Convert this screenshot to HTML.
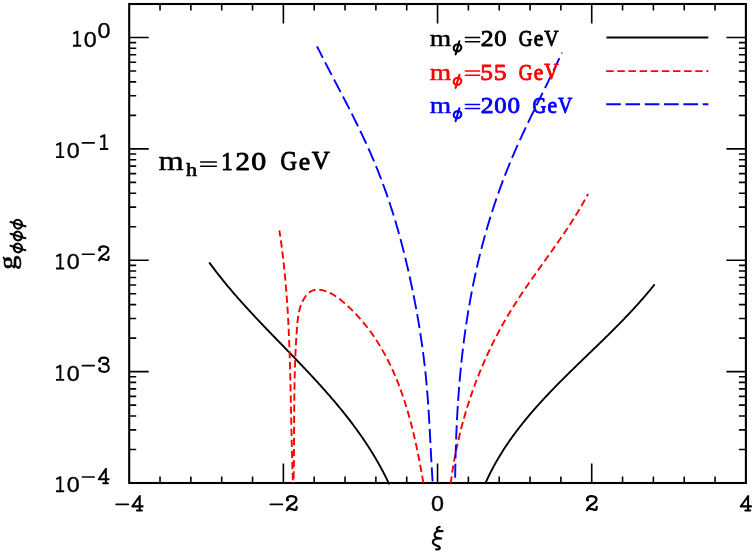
<!DOCTYPE html>
<html><head><meta charset="utf-8"><title>plot</title>
<style>html,body{margin:0;padding:0;background:#fff;font-family:"Liberation Sans",sans-serif}svg{display:block}</style>
</head><body>
<svg width="756" height="554" viewBox="0 0 756 554">
<rect width="756" height="554" fill="#fff"/>
<g style="opacity:0.999">
<path d="M160.03 4.0 v6.6 M160.03 483.0 v-6.6 M190.87 4.0 v6.6 M190.87 483.0 v-6.6 M221.70 4.0 v6.6 M221.70 483.0 v-6.6 M252.54 4.0 v6.6 M252.54 483.0 v-6.6 M283.38 4.0 v19.5 M283.38 483.0 v-19.5 M314.21 4.0 v6.6 M314.21 483.0 v-6.6 M345.04 4.0 v6.6 M345.04 483.0 v-6.6 M375.88 4.0 v6.6 M375.88 483.0 v-6.6 M406.72 4.0 v6.6 M406.72 483.0 v-6.6 M437.55 4.0 v19.5 M437.55 483.0 v-19.5 M468.39 4.0 v6.6 M468.39 483.0 v-6.6 M499.22 4.0 v6.6 M499.22 483.0 v-6.6 M530.06 4.0 v6.6 M530.06 483.0 v-6.6 M560.89 4.0 v6.6 M560.89 483.0 v-6.6 M591.73 4.0 v19.5 M591.73 483.0 v-19.5 M622.56 4.0 v6.6 M622.56 483.0 v-6.6 M653.39 4.0 v6.6 M653.39 483.0 v-6.6 M684.23 4.0 v6.6 M684.23 483.0 v-6.6 M715.07 4.0 v6.6 M715.07 483.0 v-6.6 M129.2 449.47 h7.0 M745.9 449.47 h-7.0 M129.2 429.86 h7.0 M745.9 429.86 h-7.0 M129.2 415.95 h7.0 M745.9 415.95 h-7.0 M129.2 405.16 h7.0 M745.9 405.16 h-7.0 M129.2 396.34 h7.0 M745.9 396.34 h-7.0 M129.2 388.88 h7.0 M745.9 388.88 h-7.0 M129.2 382.42 h7.0 M745.9 382.42 h-7.0 M129.2 376.73 h7.0 M745.9 376.73 h-7.0 M129.2 371.63 h19.5 M745.9 371.63 h-19.5 M129.2 338.11 h7.0 M745.9 338.11 h-7.0 M129.2 318.49 h7.0 M745.9 318.49 h-7.0 M129.2 304.58 h7.0 M745.9 304.58 h-7.0 M129.2 293.79 h7.0 M745.9 293.79 h-7.0 M129.2 284.97 h7.0 M745.9 284.97 h-7.0 M129.2 277.51 h7.0 M745.9 277.51 h-7.0 M129.2 271.06 h7.0 M745.9 271.06 h-7.0 M129.2 265.36 h7.0 M745.9 265.36 h-7.0 M129.2 260.26 h19.5 M745.9 260.26 h-19.5 M129.2 226.74 h7.0 M745.9 226.74 h-7.0 M129.2 207.13 h7.0 M745.9 207.13 h-7.0 M129.2 193.21 h7.0 M745.9 193.21 h-7.0 M129.2 182.42 h7.0 M745.9 182.42 h-7.0 M129.2 173.60 h7.0 M745.9 173.60 h-7.0 M129.2 166.15 h7.0 M745.9 166.15 h-7.0 M129.2 159.69 h7.0 M745.9 159.69 h-7.0 M129.2 153.99 h7.0 M745.9 153.99 h-7.0 M129.2 148.89 h19.5 M745.9 148.89 h-19.5 M129.2 115.37 h7.0 M745.9 115.37 h-7.0 M129.2 95.76 h7.0 M745.9 95.76 h-7.0 M129.2 81.84 h7.0 M745.9 81.84 h-7.0 M129.2 71.05 h7.0 M745.9 71.05 h-7.0 M129.2 62.23 h7.0 M745.9 62.23 h-7.0 M129.2 54.78 h7.0 M745.9 54.78 h-7.0 M129.2 48.32 h7.0 M745.9 48.32 h-7.0 M129.2 42.62 h7.0 M745.9 42.62 h-7.0 M129.2 37.53 h19.5 M745.9 37.53 h-19.5" stroke="#000" stroke-width="1.6" fill="none"/>
<rect x="129.2" y="4.0" width="616.70" height="479.00" fill="none" stroke="#000" stroke-width="2.1"/>
<path d="M209.70 263.07 L210.26 263.84 L210.82 264.61 L211.39 265.38 L211.95 266.14 L212.52 266.91 L213.09 267.67 L213.66 268.43 L214.23 269.19 L214.81 269.95 L215.39 270.70 L215.96 271.46 L216.54 272.21 L217.13 272.96 L217.71 273.72 L218.29 274.47 L218.88 275.21 L219.47 275.96 L220.06 276.71 L220.65 277.45 L221.24 278.19 L221.83 278.94 L222.43 279.68 L223.03 280.42 L223.63 281.16 L224.23 281.89 L224.83 282.63 L225.43 283.36 L226.04 284.10 L226.64 284.83 L227.25 285.56 L227.86 286.29 L228.47 287.02 L229.08 287.75 L229.69 288.48 L230.30 289.21 L230.92 289.93 L231.54 290.65 L232.15 291.38 L232.77 292.10 L233.39 292.82 L234.01 293.54 L234.64 294.26 L235.26 294.98 L235.88 295.70 L236.51 296.41 L237.14 297.13 L237.76 297.84 L238.39 298.56 L239.02 299.27 L239.65 299.98 L240.29 300.69 L240.92 301.40 L241.55 302.11 L242.19 302.82 L242.83 303.53 L243.46 304.24 L244.10 304.94 L244.74 305.65 L245.38 306.35 L246.02 307.06 L246.66 307.76 L247.31 308.46 L247.95 309.17 L248.59 309.87 L249.24 310.57 L249.89 311.27 L250.53 311.97 L251.18 312.67 L251.83 313.37 L252.48 314.06 L253.13 314.76 L253.78 315.46 L254.43 316.15 L255.08 316.85 L255.73 317.54 L256.38 318.24 L257.04 318.93 L257.69 319.63 L258.35 320.32 L259.00 321.01 L259.66 321.70 L260.32 322.40 L260.97 323.09 L261.63 323.78 L262.29 324.47 L262.95 325.16 L263.60 325.85 L264.26 326.54 L264.92 327.23 L265.58 327.92 L266.24 328.60 L266.91 329.29 L267.57 329.98 L268.23 330.67 L268.89 331.35 L269.55 332.04 L270.21 332.73 L270.88 333.41 L271.54 334.10 L272.20 334.79 L272.87 335.47 L273.53 336.16 L274.20 336.84 L274.86 337.53 L275.52 338.22 L276.19 338.90 L276.85 339.59 L277.52 340.27 L278.18 340.96 L278.85 341.64 L279.51 342.33 L280.18 343.01 L280.84 343.70 L281.51 344.38 L282.17 345.07 L282.84 345.75 L283.50 346.44 L284.17 347.12 L284.83 347.81 L285.50 348.49 L286.16 349.18 L286.83 349.86 L287.49 350.55 L288.15 351.23 L288.82 351.92 L289.48 352.60 L290.15 353.29 L290.81 353.98 L291.47 354.66 L292.14 355.35 L292.80 356.04 L293.46 356.72 L294.12 357.41 L294.79 358.10 L295.45 358.79 L296.11 359.47 L296.77 360.16 L297.43 360.85 L298.09 361.54 L298.75 362.23 L299.41 362.92 L300.07 363.61 L300.73 364.30 L301.38 364.99 L302.04 365.68 L302.70 366.37 L303.36 367.06 L304.01 367.76 L304.67 368.45 L305.32 369.14 L305.98 369.83 L306.63 370.53 L307.29 371.22 L307.94 371.92 L308.59 372.61 L309.24 373.31 L309.89 374.01 L310.54 374.70 L311.19 375.40 L311.84 376.10 L312.49 376.80 L313.14 377.50 L313.79 378.19 L314.43 378.90 L315.08 379.60 L315.72 380.30 L316.37 381.00 L317.01 381.70 L317.65 382.41 L318.29 383.11 L318.93 383.81 L319.57 384.52 L320.21 385.23 L320.85 385.93 L321.49 386.64 L322.12 387.35 L322.76 388.06 L323.39 388.77 L324.03 389.48 L324.66 390.19 L325.29 390.90 L325.92 391.61 L326.55 392.33 L327.18 393.04 L327.81 393.76 L328.43 394.47 L329.06 395.19 L329.68 395.91 L330.31 396.63 L330.93 397.35 L331.55 398.07 L332.17 398.79 L332.79 399.51 L333.41 400.23 L334.02 400.96 L334.64 401.68 L335.25 402.41 L335.86 403.14 L336.48 403.86 L337.09 404.59 L337.69 405.32 L338.30 406.05 L338.91 406.79 L339.51 407.52 L340.12 408.25 L340.72 408.99 L341.32 409.73 L341.92 410.46 L342.52 411.20 L343.12 411.94 L343.71 412.68 L344.31 413.42 L344.90 414.17 L345.49 414.91 L346.08 415.66 L346.67 416.40 L347.25 417.15 L347.84 417.90 L348.42 418.65 L349.01 419.40 L349.59 420.15 L350.17 420.91 L350.74 421.66 L351.32 422.42 L351.89 423.18 L352.47 423.94 L353.04 424.70 L353.61 425.46 L354.17 426.22 L354.74 426.99 L355.30 427.75 L355.87 428.52 L356.43 429.29 L356.99 430.06 L357.54 430.83 L358.10 431.60 L358.65 432.37 L359.21 433.15 L359.76 433.93 L360.30 434.70 L360.85 435.48 L361.40 436.26 L361.94 437.05 L362.48 437.83 L363.02 438.62 L363.56 439.40 L364.09 440.19 L364.62 440.98 L365.16 441.78 L365.69 442.57 L366.21 443.36 L366.74 444.16 L367.26 444.96 L367.78 445.76 L368.30 446.56 L368.82 447.36 L369.34 448.17 L369.85 448.97 L370.36 449.78 L370.87 450.59 L371.38 451.40 L371.88 452.22 L372.38 453.03 L372.88 453.85 L373.38 454.66 L373.88 455.48 L374.37 456.31 L374.86 457.13 L375.35 457.95 L375.84 458.78 L376.32 459.61 L376.81 460.44 L377.29 461.27 L377.76 462.11 L378.24 462.94 L378.71 463.78 L379.18 464.62 L379.65 465.46 L380.12 466.31 L380.58 467.15 L381.04 468.00 L381.50 468.85 L381.96 469.70 L382.41 470.55 L382.86 471.41 L383.31 472.27 L383.76 473.13 L384.20 473.99 L384.64 474.85 L385.08 475.71 L385.52 476.58 L385.95 477.45 L386.38 478.32 L386.81 479.20 L387.24 480.07 L387.66 480.95 L388.08 481.83 L388.50 482.71 L388.91 483.59" fill="none" stroke="#000" stroke-width="1.9" stroke-linecap="round" stroke-linejoin="round"/>
<path d="M485.47 483.13 L485.84 482.31 L486.20 481.49 L486.57 480.68 L486.95 479.87 L487.32 479.06 L487.70 478.25 L488.09 477.44 L488.47 476.64 L488.86 475.84 L489.25 475.04 L489.64 474.24 L490.04 473.44 L490.44 472.65 L490.84 471.86 L491.24 471.07 L491.65 470.28 L492.05 469.50 L492.47 468.72 L492.88 467.93 L493.30 467.16 L493.72 466.38 L494.14 465.60 L494.56 464.83 L494.99 464.06 L495.42 463.29 L495.85 462.52 L496.28 461.76 L496.72 460.99 L497.16 460.23 L497.60 459.47 L498.04 458.71 L498.49 457.96 L498.94 457.20 L499.39 456.45 L499.84 455.70 L500.30 454.95 L500.75 454.20 L501.21 453.46 L501.67 452.72 L502.14 451.97 L502.61 451.23 L503.07 450.50 L503.55 449.76 L504.02 449.02 L504.49 448.29 L504.97 447.56 L505.45 446.83 L505.93 446.10 L506.42 445.37 L506.90 444.65 L507.39 443.93 L507.88 443.20 L508.37 442.48 L508.87 441.77 L509.36 441.05 L509.86 440.33 L510.36 439.62 L510.87 438.91 L511.37 438.20 L511.88 437.49 L512.38 436.78 L512.90 436.07 L513.41 435.37 L513.92 434.67 L514.44 433.96 L514.95 433.26 L515.47 432.56 L516.00 431.87 L516.52 431.17 L517.04 430.48 L517.57 429.78 L518.10 429.09 L518.63 428.40 L519.16 427.71 L519.70 427.02 L520.23 426.34 L520.77 425.65 L521.31 424.97 L521.85 424.29 L522.39 423.61 L522.93 422.93 L523.48 422.25 L524.03 421.57 L524.57 420.89 L525.12 420.22 L525.68 419.54 L526.23 418.87 L526.78 418.20 L527.34 417.53 L527.90 416.86 L528.46 416.19 L529.02 415.53 L529.58 414.86 L530.14 414.20 L530.71 413.53 L531.28 412.87 L531.84 412.21 L532.41 411.55 L532.98 410.89 L533.56 410.23 L534.13 409.58 L534.70 408.92 L535.28 408.27 L535.86 407.61 L536.44 406.96 L537.02 406.31 L537.60 405.66 L538.18 405.01 L538.76 404.36 L539.35 403.71 L539.93 403.07 L540.52 402.42 L541.11 401.77 L541.70 401.13 L542.29 400.49 L542.88 399.84 L543.47 399.20 L544.07 398.56 L544.66 397.92 L545.26 397.28 L545.85 396.64 L546.45 396.01 L547.05 395.37 L547.65 394.73 L548.25 394.10 L548.85 393.47 L549.46 392.83 L550.06 392.20 L550.66 391.57 L551.27 390.93 L551.88 390.30 L552.48 389.67 L553.09 389.04 L553.70 388.42 L554.31 387.79 L554.92 387.16 L555.53 386.53 L556.14 385.91 L556.76 385.28 L557.37 384.66 L557.99 384.03 L558.60 383.41 L559.22 382.79 L559.83 382.16 L560.45 381.54 L561.07 380.92 L561.69 380.30 L562.31 379.68 L562.92 379.06 L563.55 378.44 L564.17 377.82 L564.79 377.20 L565.41 376.58 L566.03 375.96 L566.66 375.35 L567.28 374.73 L567.90 374.11 L568.53 373.50 L569.15 372.88 L569.78 372.26 L570.40 371.65 L571.03 371.03 L571.66 370.42 L572.28 369.81 L572.91 369.19 L573.54 368.58 L574.17 367.96 L574.80 367.35 L575.42 366.74 L576.05 366.13 L576.68 365.51 L577.31 364.90 L577.94 364.29 L578.57 363.68 L579.20 363.07 L579.83 362.46 L580.46 361.85 L581.09 361.23 L581.73 360.62 L582.36 360.01 L582.99 359.40 L583.62 358.79 L584.25 358.18 L584.88 357.57 L585.51 356.96 L586.15 356.35 L586.78 355.74 L587.41 355.13 L588.04 354.52 L588.67 353.91 L589.31 353.30 L589.94 352.69 L590.57 352.08 L591.20 351.47 L591.83 350.86 L592.46 350.25 L593.09 349.64 L593.73 349.03 L594.36 348.42 L594.99 347.81 L595.62 347.20 L596.25 346.59 L596.88 345.98 L597.51 345.37 L598.14 344.76 L598.77 344.14 L599.40 343.53 L600.03 342.92 L600.66 342.31 L601.29 341.70 L601.91 341.08 L602.54 340.47 L603.17 339.86 L603.80 339.25 L604.42 338.63 L605.05 338.02 L605.67 337.41 L606.30 336.79 L606.93 336.18 L607.55 335.56 L608.17 334.95 L608.80 334.33 L609.42 333.71 L610.04 333.10 L610.67 332.48 L611.29 331.86 L611.91 331.25 L612.53 330.63 L613.15 330.01 L613.77 329.39 L614.39 328.77 L615.00 328.15 L615.62 327.53 L616.24 326.91 L616.85 326.29 L617.47 325.67 L618.08 325.05 L618.70 324.42 L619.31 323.80 L619.92 323.18 L620.53 322.55 L621.15 321.93 L621.76 321.30 L622.36 320.68 L622.97 320.05 L623.58 319.42 L624.19 318.79 L624.79 318.16 L625.40 317.53 L626.00 316.90 L626.60 316.27 L627.21 315.64 L627.81 315.01 L628.41 314.38 L629.01 313.74 L629.60 313.11 L630.20 312.47 L630.80 311.84 L631.39 311.20 L631.99 310.56 L632.58 309.92 L633.17 309.29 L633.76 308.65 L634.35 308.00 L634.94 307.36 L635.53 306.72 L636.11 306.08 L636.70 305.43 L637.28 304.79 L637.86 304.14 L638.45 303.49 L639.03 302.85 L639.60 302.20 L640.18 301.55 L640.76 300.90 L641.33 300.24 L641.91 299.59 L642.48 298.94 L643.05 298.28 L643.62 297.63 L644.19 296.97 L644.75 296.31 L645.32 295.65 L645.88 294.99 L646.45 294.33 L647.01 293.67 L647.57 293.01 L648.13 292.34 L648.68 291.68 L649.24 291.01 L649.79 290.34 L650.34 289.67 L650.89 289.00 L651.44 288.33 L651.99 287.66 L652.53 286.98 L653.08 286.31 L653.62 285.63 L654.16 284.95" fill="none" stroke="#000" stroke-width="1.9" stroke-linecap="round" stroke-linejoin="round"/>
<path d="M279.36 230.38 L279.49 231.22 L279.62 232.06 L279.75 232.89 L279.87 233.73 L280.00 234.57 L280.12 235.41 L280.24 236.25 L280.37 237.09 L280.49 237.93 L280.61 238.77 L280.73 239.61 L280.84 240.45 L280.96 241.29 L281.08 242.12 L281.19 242.96 L281.31 243.80 L281.42 244.64 L281.53 245.48 L281.64 246.32 L281.75 247.16 L281.86 248.00 L281.97 248.84 L282.08 249.68 L282.18 250.52 L282.29 251.36 L282.39 252.21 L282.50 253.05 L282.60 253.89 L282.70 254.73 L282.80 255.57 L282.90 256.41 L283.00 257.25 L283.10 258.09 L283.20 258.93 L283.29 259.77 L283.39 260.61 L283.48 261.46 L283.58 262.30 L283.67 263.14 L283.76 263.98 L283.85 264.82 L283.94 265.66 L284.03 266.51 L284.12 267.35 L284.21 268.19 L284.30 269.03 L284.38 269.87 L284.47 270.71 L284.55 271.56 L284.63 272.40 L284.72 273.24 L284.80 274.08 L284.88 274.93 L284.96 275.77 L285.04 276.61 L285.12 277.45 L285.20 278.30 L285.27 279.14 L285.35 279.98 L285.43 280.82 L285.50 281.67 L285.58 282.51 L285.65 283.35 L285.72 284.20 L285.79 285.04 L285.87 285.88 L285.94 286.73 L286.01 287.57 L286.08 288.41 L286.14 289.26 L286.21 290.10 L286.28 290.94 L286.34 291.79 L286.41 292.63 L286.47 293.47 L286.54 294.32 L286.60 295.16 L286.67 296.00 L286.73 296.85 L286.79 297.69 L286.85 298.54 L286.91 299.38 L286.97 300.22 L287.03 301.07 L287.09 301.91 L287.14 302.76 L287.20 303.60 L287.26 304.45 L287.31 305.29 L287.37 306.13 L287.42 306.98 L287.48 307.82 L287.53 308.67 L287.58 309.51 L287.64 310.36 L287.69 311.20 L287.74 312.05 L287.79 312.89 L287.84 313.74 L287.89 314.58 L287.94 315.43 L287.98 316.27 L288.03 317.12 L288.08 317.96 L288.13 318.81 L288.17 319.65 L288.22 320.50 L288.26 321.34 L288.31 322.19 L288.35 323.03 L288.39 323.88 L288.44 324.72 L288.48 325.57 L288.52 326.41 L288.56 327.26 L288.60 328.10 L288.64 328.95 L288.68 329.80 L288.72 330.64 L288.76 331.49 L288.80 332.33 L288.84 333.18 L288.87 334.02 L288.91 334.87 L288.95 335.72 L288.98 336.56 L289.02 337.41 L289.06 338.25 L289.09 339.10 L289.13 339.95 L289.16 340.79 L289.19 341.64 L289.23 342.48 L289.26 343.33 L289.29 344.18 L289.32 345.02 L289.36 345.87 L289.39 346.71 L289.42 347.56 L289.45 348.41 L289.48 349.25 L289.51 350.10 L289.54 350.95 L289.57 351.79 L289.60 352.64 L289.63 353.48 L289.65 354.33 L289.68 355.18 L289.71 356.02 L289.74 356.87 L289.76 357.72 L289.79 358.56 L289.82 359.41 L289.84 360.26 L289.87 361.10 L289.89 361.95 L289.92 362.80 L289.94 363.64 L289.97 364.49 L289.99 365.34 L290.02 366.18 L290.04 367.03 L290.06 367.88 L290.09 368.72 L290.11 369.57 L290.13 370.42 L290.15 371.26 L290.18 372.11 L290.20 372.96 L290.22 373.80 L290.24 374.65 L290.26 375.50 L290.29 376.34 L290.31 377.19 L290.33 378.04 L290.35 378.88 L290.37 379.73 L290.39 380.58 L290.41 381.43 L290.43 382.27 L290.45 383.12 L290.47 383.97 L290.49 384.81 L290.51 385.66 L290.53 386.51 L290.54 387.35 L290.56 388.20 L290.58 389.05 L290.60 389.89 L290.62 390.74 L290.64 391.59 L290.66 392.44 L290.67 393.28 L290.69 394.13 L290.71 394.98 L290.73 395.82 L290.75 396.67 L290.76 397.52 L290.78 398.36 L290.80 399.21 L290.82 400.06 L290.83 400.91 L290.85 401.75 L290.87 402.60 L290.89 403.45 L290.90 404.29 L290.92 405.14 L290.94 405.99 L290.95 406.83 L290.97 407.68 L290.99 408.53 L291.01 409.37 L291.02 410.22 L291.04 411.07 L291.06 411.92 L291.07 412.76 L291.09 413.61 L291.11 414.46 L291.12 415.30 L291.14 416.15 L291.16 417.00 L291.18 417.84 L291.19 418.69 L291.21 419.54 L291.23 420.38 L291.25 421.23 L291.26 422.08 L291.28 422.92 L291.30 423.77 L291.32 424.62 L291.33 425.46 L291.35 426.31 L291.37 427.16 L291.39 428.01 L291.40 428.85 L291.42 429.70 L291.44 430.55 L291.46 431.39 L291.48 432.24 L291.50 433.08 L291.52 433.93 L291.53 434.78 L291.55 435.62 L291.57 436.47 L291.59 437.32 L291.61 438.16 L291.63 439.01 L291.65 439.86 L291.67 440.70 L291.69 441.55 L291.71 442.40 L291.73 443.24 L291.75 444.09 L291.77 444.94 L291.80 445.78 L291.82 446.63 L291.84 447.47 L291.86 448.32 L291.88 449.17 L291.90 450.01 L291.93 450.86 L291.95 451.70 L291.97 452.55 L291.99 453.40 L292.02 454.24 L292.04 455.09 L292.07 455.93 L292.09 456.78 L292.11 457.63 L292.14 458.47 L292.16 459.32 L292.19 460.16 L292.21 461.01 L292.24 461.86 L292.27 462.70 L292.29 463.55 L292.32 464.39 L292.35 465.24 L292.37 466.08 L292.40 466.93 L292.43 467.77 L292.46 468.62 L292.49 469.47 L292.52 470.31 L292.55 471.16 L292.58 472.00 L292.61 472.85 L292.64 473.69 L292.67 474.54 L292.70 475.38 L292.73 476.23 L292.76 477.07 L292.79 477.92 L292.83 478.76 L292.86 479.61 L292.89 480.45 L292.93 481.30 L292.96 482.14 L293.00 482.99" fill="none" stroke="#f00" stroke-width="1.9" stroke-dasharray="7.3 3.8" stroke-dashoffset="1" stroke-linejoin="round"/>
<path d="M423.34 482.85 L423.20 482.01 L423.05 481.17 L422.91 480.33 L422.77 479.49 L422.62 478.65 L422.48 477.81 L422.33 476.97 L422.18 476.13 L422.03 475.29 L421.89 474.45 L421.74 473.60 L421.59 472.76 L421.44 471.91 L421.28 471.07 L421.13 470.22 L420.98 469.38 L420.82 468.53 L420.67 467.68 L420.51 466.84 L420.36 465.99 L420.20 465.14 L420.04 464.29 L419.88 463.44 L419.72 462.60 L419.56 461.75 L419.40 460.90 L419.23 460.05 L419.07 459.20 L418.90 458.35 L418.74 457.50 L418.57 456.64 L418.40 455.79 L418.23 454.94 L418.06 454.09 L417.89 453.24 L417.71 452.39 L417.54 451.53 L417.36 450.68 L417.19 449.83 L417.01 448.98 L416.83 448.13 L416.65 447.27 L416.47 446.42 L416.28 445.57 L416.10 444.72 L415.91 443.86 L415.73 443.01 L415.54 442.16 L415.35 441.31 L415.16 440.45 L414.97 439.60 L414.77 438.75 L414.58 437.90 L414.38 437.04 L414.19 436.19 L413.99 435.34 L413.79 434.49 L413.58 433.64 L413.38 432.79 L413.18 431.94 L412.97 431.09 L412.76 430.23 L412.55 429.38 L412.34 428.53 L412.13 427.69 L411.91 426.84 L411.70 425.99 L411.48 425.14 L411.26 424.29 L411.04 423.44 L410.82 422.59 L410.60 421.75 L410.37 420.90 L410.14 420.05 L409.91 419.21 L409.68 418.36 L409.45 417.52 L409.22 416.67 L408.98 415.83 L408.74 414.99 L408.50 414.14 L408.26 413.30 L408.02 412.46 L407.77 411.62 L407.53 410.78 L407.28 409.94 L407.03 409.10 L406.78 408.26 L406.52 407.42 L406.27 406.59 L406.01 405.75 L405.75 404.91 L405.49 404.08 L405.22 403.25 L404.96 402.41 L404.69 401.58 L404.42 400.75 L404.15 399.92 L403.87 399.09 L403.60 398.26 L403.32 397.43 L403.04 396.60 L402.76 395.77 L402.47 394.95 L402.18 394.12 L401.90 393.30 L401.60 392.48 L401.31 391.65 L401.02 390.83 L400.72 390.01 L400.42 389.19 L400.12 388.37 L399.81 387.56 L399.51 386.74 L399.20 385.93 L398.89 385.11 L398.57 384.30 L398.26 383.49 L397.94 382.68 L397.62 381.87 L397.30 381.06 L396.97 380.25 L396.64 379.45 L396.31 378.64 L395.98 377.84 L395.65 377.04 L395.31 376.23 L394.97 375.43 L394.63 374.64 L394.28 373.84 L393.93 373.04 L393.58 372.25 L393.23 371.46 L392.88 370.66 L392.52 369.87 L392.16 369.08 L391.80 368.30 L391.43 367.51 L391.06 366.73 L390.69 365.94 L390.32 365.16 L389.95 364.38 L389.57 363.60 L389.19 362.82 L388.80 362.05 L388.42 361.27 L388.03 360.50 L387.63 359.73 L387.24 358.96 L386.84 358.19 L386.44 357.43 L386.04 356.66 L385.63 355.90 L385.22 355.14 L384.81 354.38 L384.40 353.62 L383.98 352.87 L383.56 352.11 L383.13 351.36 L382.71 350.61 L382.28 349.86 L381.85 349.11 L381.41 348.37 L380.97 347.62 L380.53 346.88 L380.09 346.14 L379.64 345.40 L379.19 344.67 L378.74 343.93 L378.28 343.20 L377.82 342.47 L377.36 341.74 L376.89 341.01 L376.42 340.29 L375.95 339.57 L375.48 338.85 L375.00 338.13 L374.52 337.41 L374.03 336.70 L373.54 335.99 L373.05 335.28 L372.56 334.57 L372.06 333.86 L371.56 333.16 L371.06 332.46 L370.55 331.76 L370.04 331.06 L369.52 330.36 L369.01 329.67 L368.49 328.98 L367.96 328.29 L367.43 327.61 L366.90 326.92 L366.37 326.24 L365.83 325.56 L365.29 324.89 L364.74 324.21 L364.20 323.54 L363.64 322.87 L363.09 322.20 L362.53 321.54 L361.97 320.87 L361.40 320.21 L360.83 319.56 L360.26 318.90 L359.68 318.25 L359.10 317.60 L358.52 316.95 L357.93 316.30 L357.34 315.66 L356.74 315.02 L356.15 314.38 L355.54 313.75 L354.94 313.12 L354.33 312.49 L353.71 311.86 L353.10 311.23 L352.48 310.61 L351.85 309.99 L351.22 309.38 L350.59 308.76 L349.95 308.15 L349.31 307.54 L348.67 306.94 L348.02 306.34 L347.37 305.74 L346.72 305.14 L346.06 304.54 L345.39 303.95 L344.73 303.36 L344.05 302.78 L343.38 302.20 L342.70 301.62 L342.02 301.04 L341.33 300.47 L340.64 299.91 L339.94 299.35 L339.24 298.80 L338.53 298.26 L337.82 297.72 L337.10 297.20 L336.38 296.69 L335.65 296.18 L334.91 295.69 L334.17 295.22 L333.42 294.76 L332.67 294.31 L331.91 293.88 L331.14 293.46 L330.37 293.06 L329.59 292.68 L328.80 292.32 L328.00 291.97 L327.20 291.65 L326.39 291.35 L325.57 291.06 L324.74 290.81 L323.91 290.57 L323.06 290.36 L322.21 290.18 L321.36 290.02 L320.51 289.90 L319.65 289.80 L318.80 289.74 L317.95 289.71 L317.11 289.73 L316.28 289.78 L315.46 289.87 L314.66 290.00 L313.86 290.18 L313.09 290.40 L312.33 290.68 L311.60 291.00 L310.88 291.37 L310.19 291.79 L309.52 292.25 L308.88 292.76 L308.25 293.30 L307.65 293.88 L307.06 294.49 L306.50 295.12 L305.96 295.79 L305.44 296.48 L304.94 297.19 L304.46 297.92 L304.00 298.66 L303.57 299.42 L303.15 300.19 L302.75 300.96 L302.37 301.74 L302.01 302.53 L301.66 303.32 L301.34 304.13 L301.03 304.93 L300.73 305.74 L300.45 306.56 L300.19 307.39 L299.94 308.21 L299.71 309.05 L299.49 309.89 L299.28 310.73 L299.09 311.57 L298.90 312.43 L298.73 313.28 L298.57 314.14 L298.42 315.00 L298.28 315.86 L298.14 316.73 L298.02 317.60 L297.90 318.47 L297.79 319.35 L297.69 320.22 L297.59 321.10 L297.50 321.98 L297.42 322.86 L297.34 323.74 L297.26 324.62 L297.18 325.51 L297.11 326.39 L297.04 327.27 L296.98 328.16 L296.91 329.04 L296.85 329.92 L296.78 330.80 L296.72 331.68 L296.66 332.56 L296.60 333.45 L296.54 334.33 L296.48 335.21 L296.42 336.08 L296.36 336.96 L296.31 337.84 L296.25 338.72 L296.20 339.60 L296.15 340.48 L296.09 341.35 L296.04 342.23 L295.99 343.11 L295.94 343.98 L295.90 344.86 L295.85 345.73 L295.80 346.61 L295.76 347.48 L295.71 348.36 L295.67 349.23 L295.63 350.10 L295.58 350.98 L295.54 351.85 L295.50 352.72 L295.46 353.60 L295.42 354.47 L295.38 355.34 L295.35 356.21 L295.31 357.08 L295.28 357.95 L295.24 358.83 L295.21 359.70 L295.17 360.57 L295.14 361.44 L295.11 362.31 L295.08 363.18 L295.05 364.04 L295.02 364.91 L294.99 365.78 L294.96 366.65 L294.93 367.52 L294.90 368.39 L294.88 369.26 L294.85 370.12 L294.83 370.99 L294.80 371.86 L294.78 372.73 L294.75 373.59 L294.73 374.46 L294.71 375.33 L294.69 376.19 L294.67 377.06 L294.64 377.93 L294.62 378.79 L294.61 379.66 L294.59 380.52 L294.57 381.39 L294.55 382.26 L294.53 383.12 L294.52 383.99 L294.50 384.85 L294.48 385.72 L294.47 386.58 L294.45 387.45 L294.44 388.31 L294.42 389.17 L294.41 390.04 L294.40 390.90 L294.38 391.77 L294.37 392.63 L294.36 393.50 L294.35 394.36 L294.34 395.22 L294.33 396.09 L294.31 396.95 L294.30 397.82 L294.29 398.68 L294.28 399.54 L294.28 400.41 L294.27 401.27 L294.26 402.14 L294.25 403.00 L294.24 403.86 L294.23 404.73 L294.23 405.59 L294.22 406.45 L294.21 407.32 L294.20 408.18 L294.20 409.05 L294.19 409.91 L294.19 410.77 L294.18 411.64 L294.17 412.50 L294.17 413.36 L294.16 414.23 L294.16 415.09 L294.15 415.96 L294.15 416.82 L294.14 417.68 L294.14 418.55 L294.13 419.41 L294.13 420.28 L294.12 421.14 L294.12 422.01 L294.12 422.87 L294.11 423.74 L294.11 424.60 L294.10 425.47 L294.10 426.33 L294.09 427.20 L294.09 428.06 L294.09 428.93 L294.08 429.79 L294.08 430.66 L294.07 431.52 L294.07 432.39 L294.07 433.26 L294.06 434.12 L294.06 434.99 L294.05 435.86 L294.05 436.72 L294.05 437.59 L294.04 438.46 L294.04 439.32 L294.03 440.19 L294.03 441.06 L294.02 441.93 L294.02 442.80 L294.01 443.66 L294.01 444.53 L294.00 445.40 L294.00 446.27 L293.99 447.14 L293.98 448.01 L293.98 448.88 L293.97 449.75 L293.97 450.62 L293.96 451.49 L293.95 452.36 L293.94 453.23 L293.94 454.10 L293.93 454.97 L293.92 455.85 L293.91 456.72 L293.90 457.59 L293.89 458.46 L293.89 459.34 L293.88 460.21 L293.87 461.08 L293.86 461.96 L293.85 462.83 L293.83 463.70 L293.82 464.58 L293.81 465.45 L293.80 466.33 L293.79 467.21 L293.77 468.08 L293.76 468.96 L293.75 469.84 L293.73 470.71 L293.72 471.59 L293.70 472.47 L293.69 473.35 L293.67 474.23 L293.66 475.10 L293.64 475.98 L293.62 476.86 L293.60 477.74 L293.59 478.63 L293.57 479.51 L293.55 480.39 L293.53 481.27 L293.51 482.15 L293.49 483.04" fill="none" stroke="#f00" stroke-width="1.9" stroke-dasharray="7.3 3.8" stroke-linejoin="round"/>
<path d="M588.08 193.89 L587.57 194.85 L587.06 195.81 L586.55 196.77 L586.03 197.72 L585.51 198.67 L584.99 199.62 L584.46 200.57 L583.94 201.52 L583.40 202.46 L582.87 203.40 L582.33 204.34 L581.79 205.28 L581.25 206.22 L580.70 207.16 L580.15 208.09 L579.60 209.02 L579.04 209.95 L578.49 210.88 L577.93 211.81 L577.37 212.73 L576.80 213.66 L576.23 214.58 L575.67 215.50 L575.09 216.42 L574.52 217.34 L573.94 218.26 L573.37 219.17 L572.78 220.09 L572.20 221.00 L571.62 221.91 L571.03 222.82 L570.44 223.73 L569.85 224.64 L569.26 225.55 L568.66 226.45 L568.07 227.36 L567.47 228.26 L566.87 229.16 L566.27 230.07 L565.67 230.97 L565.06 231.87 L564.46 232.76 L563.85 233.66 L563.24 234.56 L562.63 235.45 L562.02 236.35 L561.40 237.24 L560.79 238.14 L560.17 239.03 L559.56 239.92 L558.94 240.81 L558.32 241.70 L557.70 242.59 L557.08 243.48 L556.46 244.37 L555.83 245.26 L555.21 246.15 L554.59 247.04 L553.96 247.92 L553.34 248.81 L552.71 249.69 L552.08 250.58 L551.45 251.47 L550.83 252.35 L550.20 253.23 L549.57 254.12 L548.94 255.00 L548.31 255.89 L547.68 256.77 L547.05 257.65 L546.42 258.54 L545.78 259.42 L545.15 260.30 L544.52 261.18 L543.89 262.07 L543.26 262.95 L542.63 263.83 L542.00 264.71 L541.37 265.60 L540.73 266.48 L540.10 267.36 L539.47 268.25 L538.84 269.13 L538.21 270.01 L537.58 270.90 L536.96 271.78 L536.33 272.67 L535.70 273.55 L535.07 274.44 L534.45 275.32 L533.82 276.21 L533.19 277.09 L532.57 277.98 L531.95 278.87 L531.32 279.75 L530.70 280.64 L530.08 281.53 L529.46 282.42 L528.84 283.31 L528.22 284.20 L527.61 285.09 L526.99 285.98 L526.38 286.87 L525.76 287.77 L525.15 288.66 L524.54 289.56 L523.93 290.45 L523.32 291.35 L522.72 292.25 L522.11 293.14 L521.51 294.04 L520.91 294.94 L520.31 295.84 L519.71 296.75 L519.11 297.65 L518.52 298.55 L517.93 299.46 L517.34 300.37 L516.75 301.27 L516.16 302.18 L515.58 303.09 L514.99 304.00 L514.41 304.92 L513.83 305.83 L513.26 306.75 L512.68 307.66 L512.11 308.58 L511.54 309.50 L510.97 310.42 L510.41 311.34 L509.85 312.27 L509.29 313.19 L508.73 314.12 L508.17 315.04 L507.62 315.97 L507.07 316.90 L506.52 317.84 L505.98 318.77 L505.44 319.71 L504.90 320.64 L504.36 321.58 L503.82 322.52 L503.29 323.46 L502.76 324.40 L502.23 325.34 L501.71 326.29 L501.18 327.24 L500.66 328.18 L500.14 329.13 L499.63 330.08 L499.11 331.03 L498.60 331.99 L498.10 332.94 L497.59 333.89 L497.09 334.85 L496.58 335.81 L496.09 336.77 L495.59 337.73 L495.10 338.69 L494.61 339.65 L494.12 340.62 L493.63 341.58 L493.15 342.55 L492.66 343.52 L492.19 344.49 L491.71 345.46 L491.24 346.43 L490.76 347.40 L490.30 348.38 L489.83 349.35 L489.36 350.33 L488.90 351.31 L488.44 352.29 L487.99 353.27 L487.53 354.25 L487.08 355.23 L486.63 356.22 L486.19 357.20 L485.74 358.19 L485.30 359.17 L484.86 360.16 L484.42 361.15 L483.99 362.14 L483.56 363.14 L483.13 364.13 L482.70 365.12 L482.28 366.12 L481.86 367.11 L481.44 368.11 L481.02 369.11 L480.60 370.11 L480.19 371.11 L479.78 372.11 L479.38 373.11 L478.97 374.12 L478.57 375.12 L478.17 376.13 L477.77 377.14 L477.38 378.15 L476.99 379.15 L476.60 380.16 L476.21 381.18 L475.83 382.19 L475.45 383.20 L475.07 384.21 L474.69 385.23 L474.32 386.25 L473.94 387.26 L473.57 388.28 L473.21 389.30 L472.84 390.32 L472.48 391.34 L472.12 392.36 L471.77 393.39 L471.41 394.41 L471.06 395.44 L470.71 396.46 L470.36 397.49 L470.02 398.52 L469.68 399.54 L469.34 400.57 L469.00 401.60 L468.67 402.63 L468.34 403.67 L468.01 404.70 L467.68 405.73 L467.36 406.77 L467.04 407.80 L466.72 408.84 L466.40 409.88 L466.09 410.91 L465.77 411.95 L465.47 412.99 L465.16 414.03 L464.86 415.07 L464.55 416.12 L464.26 417.16 L463.96 418.20 L463.67 419.25 L463.38 420.29 L463.09 421.34 L462.80 422.39 L462.52 423.43 L462.24 424.48 L461.96 425.53 L461.68 426.58 L461.41 427.63 L461.14 428.68 L460.87 429.74 L460.60 430.79 L460.34 431.84 L460.08 432.90 L459.82 433.95 L459.57 435.01 L459.32 436.06 L459.07 437.12 L458.82 438.18 L458.57 439.24 L458.33 440.30 L458.09 441.35 L457.85 442.42 L457.62 443.48 L457.38 444.54 L457.15 445.60 L456.93 446.66 L456.70 447.73 L456.48 448.79 L456.26 449.86 L456.04 450.92 L455.83 451.99 L455.62 453.05 L455.41 454.12 L455.20 455.19 L455.00 456.26 L454.80 457.33 L454.60 458.40 L454.40 459.47 L454.21 460.54 L454.02 461.61 L453.83 462.68 L453.64 463.75 L453.46 464.82 L453.28 465.90 L453.10 466.97 L452.92 468.04 L452.75 469.12 L452.58 470.19 L452.41 471.27 L452.24 472.35 L452.08 473.42 L451.92 474.50 L451.76 475.58 L451.61 476.66 L451.46 477.73 L451.31 478.81 L451.16 479.89 L451.01 480.97 L450.87 482.05 L450.73 483.13" fill="none" stroke="#f00" stroke-width="1.9" stroke-dasharray="7.3 3.8" stroke-dashoffset="4.6" stroke-linejoin="round"/>
<path d="M317.00 46.30 L317.72 47.76 L318.45 49.22 L319.18 50.68 L319.92 52.14 L320.66 53.60 L321.40 55.06 L322.14 56.52 L322.89 57.98 L323.63 59.44 L324.38 60.91 L325.13 62.37 L325.89 63.83 L326.64 65.29 L327.40 66.75 L328.16 68.21 L328.92 69.67 L329.68 71.13 L330.44 72.59 L331.20 74.05 L331.97 75.51 L332.73 76.97 L333.49 78.43 L334.26 79.89 L335.02 81.35 L335.79 82.81 L336.56 84.27 L337.32 85.73 L338.09 87.19 L338.85 88.66 L339.61 90.12 L340.38 91.58 L341.14 93.04 L341.90 94.50 L342.66 95.96 L343.42 97.42 L344.18 98.88 L344.94 100.34 L345.69 101.80 L346.45 103.26 L347.20 104.72 L347.95 106.18 L348.70 107.64 L349.44 109.10 L350.19 110.56 L350.93 112.02 L351.67 113.48 L352.40 114.95 L353.14 116.41 L353.87 117.87 L354.60 119.33 L355.32 120.79 L356.05 122.25 L356.76 123.71 L357.48 125.17 L358.19 126.63 L358.90 128.09 L359.61 129.55 L360.31 131.01 L361.01 132.47 L361.71 133.93 L362.40 135.39 L363.09 136.85 L363.78 138.31 L364.46 139.77 L365.14 141.23 L365.81 142.70 L366.48 144.16 L367.15 145.62 L367.81 147.08 L368.46 148.54 L369.12 150.00 L369.77 151.46 L370.41 152.92 L371.05 154.38 L371.68 155.84 L372.31 157.30 L372.94 158.76 L373.56 160.22 L374.17 161.68 L374.79 163.14 L375.39 164.60 L375.99 166.06 L376.59 167.52 L377.18 168.98 L377.76 170.45 L378.34 171.91 L378.92 173.37 L379.49 174.83 L380.06 176.29 L380.62 177.75 L381.18 179.21 L381.73 180.67 L382.28 182.13 L382.82 183.59 L383.36 185.05 L383.90 186.51 L384.43 187.97 L384.96 189.43 L385.48 190.89 L385.99 192.35 L386.51 193.81 L387.02 195.27 L387.52 196.74 L388.02 198.20 L388.52 199.66 L389.01 201.12 L389.50 202.58 L389.98 204.04 L390.46 205.50 L390.94 206.96 L391.41 208.42 L391.88 209.88 L392.34 211.34 L392.80 212.80 L393.26 214.26 L393.71 215.72 L394.16 217.18 L394.60 218.64 L395.04 220.10 L395.48 221.56 L395.92 223.02 L396.35 224.49 L396.77 225.95 L397.20 227.41 L397.62 228.87 L398.03 230.33 L398.44 231.79 L398.85 233.25 L399.26 234.71 L399.66 236.17 L400.06 237.63 L400.46 239.09 L400.85 240.55 L401.24 242.01 L401.63 243.47 L402.01 244.93 L402.39 246.39 L402.77 247.85 L403.15 249.31 L403.52 250.77 L403.89 252.24 L404.25 253.70 L404.62 255.16 L404.98 256.62 L405.33 258.08 L405.69 259.54 L406.04 261.00 L406.39 262.46 L406.73 263.92 L407.08 265.38 L407.42 266.84 L407.76 268.30 L408.09 269.76 L408.43 271.22 L408.76 272.68 L409.09 274.14 L409.41 275.60 L409.74 277.06 L410.06 278.53 L410.38 279.99 L410.69 281.45 L411.01 282.91 L411.32 284.37 L411.63 285.83 L411.93 287.29 L412.24 288.75 L412.54 290.21 L412.84 291.67 L413.14 293.13 L413.43 294.59 L413.72 296.05 L414.01 297.51 L414.30 298.97 L414.58 300.43 L414.86 301.89 L415.14 303.35 L415.42 304.81 L415.70 306.28 L415.97 307.74 L416.24 309.20 L416.50 310.66 L416.77 312.12 L417.03 313.58 L417.29 315.04 L417.55 316.50 L417.80 317.96 L418.05 319.42 L418.30 320.88 L418.55 322.34 L418.79 323.80 L419.03 325.26 L419.27 326.72 L419.51 328.18 L419.74 329.64 L419.97 331.10 L420.20 332.56 L420.43 334.03 L420.65 335.49 L420.87 336.95 L421.09 338.41 L421.31 339.87 L421.52 341.33 L421.73 342.79 L421.94 344.25 L422.14 345.71 L422.34 347.17 L422.54 348.63 L422.74 350.09 L422.94 351.55 L423.13 353.01 L423.32 354.47 L423.50 355.93 L423.69 357.39 L423.87 358.85 L424.05 360.32 L424.22 361.78 L424.40 363.24 L424.57 364.70 L424.73 366.16 L424.90 367.62 L425.06 369.08 L425.22 370.54 L425.38 372.00 L425.53 373.46 L425.68 374.92 L425.83 376.38 L425.98 377.84 L426.12 379.30 L426.26 380.76 L426.40 382.22 L426.54 383.68 L426.67 385.14 L426.80 386.60 L426.92 388.07 L427.05 389.53 L427.17 390.99 L427.29 392.45 L427.41 393.91 L427.52 395.37 L427.63 396.83 L427.74 398.29 L427.85 399.75 L427.96 401.21 L428.06 402.67 L428.16 404.13 L428.26 405.59 L428.36 407.05 L428.46 408.51 L428.55 409.97 L428.65 411.43 L428.74 412.89 L428.83 414.35 L428.92 415.82 L429.01 417.28 L429.09 418.74 L429.18 420.20 L429.26 421.66 L429.35 423.12 L429.43 424.58 L429.51 426.04 L429.59 427.50 L429.67 428.96 L429.75 430.42 L429.83 431.88 L429.91 433.34 L429.99 434.80 L430.06 436.26 L430.14 437.72 L430.22 439.18 L430.29 440.64 L430.37 442.11 L430.44 443.57 L430.52 445.03 L430.60 446.49 L430.67 447.95 L430.75 449.41 L430.83 450.87 L430.90 452.33 L430.98 453.79 L431.06 455.25 L431.14 456.71 L431.22 458.17 L431.30 459.63 L431.38 461.09 L431.46 462.55 L431.54 464.01 L431.63 465.47 L431.71 466.93 L431.80 468.39 L431.88 469.86 L431.97 471.32 L432.06 472.78 L432.15 474.24 L432.24 475.70 L432.34 477.16 L432.43 478.62 L432.53 480.08 L432.63 481.54 L432.73 483.00" fill="none" stroke="#00f" stroke-width="1.9" stroke-dasharray="14.1 5.15" stroke-dashoffset="1.2" stroke-linejoin="round"/>
<path d="M561.95 52.60 L561.29 54.04 L560.63 55.48 L559.96 56.92 L559.30 58.36 L558.63 59.80 L557.95 61.24 L557.28 62.68 L556.60 64.12 L555.91 65.56 L555.23 66.99 L554.54 68.43 L553.86 69.87 L553.17 71.31 L552.47 72.75 L551.78 74.19 L551.08 75.63 L550.38 77.07 L549.68 78.51 L548.98 79.95 L548.28 81.39 L547.58 82.83 L546.87 84.27 L546.17 85.71 L545.46 87.15 L544.75 88.59 L544.04 90.03 L543.34 91.47 L542.63 92.91 L541.92 94.34 L541.21 95.78 L540.50 97.22 L539.79 98.66 L539.08 100.10 L538.37 101.54 L537.66 102.98 L536.95 104.42 L536.25 105.86 L535.54 107.30 L534.83 108.74 L534.13 110.18 L533.43 111.62 L532.72 113.06 L532.02 114.50 L531.32 115.94 L530.62 117.38 L529.93 118.82 L529.23 120.25 L528.54 121.69 L527.85 123.13 L527.16 124.57 L526.47 126.01 L525.79 127.45 L525.10 128.89 L524.42 130.33 L523.75 131.77 L523.07 133.21 L522.40 134.65 L521.73 136.09 L521.07 137.53 L520.40 138.97 L519.75 140.41 L519.09 141.85 L518.44 143.29 L517.79 144.73 L517.15 146.17 L516.51 147.60 L515.87 149.04 L515.24 150.48 L514.61 151.92 L513.99 153.36 L513.37 154.80 L512.75 156.24 L512.14 157.68 L511.53 159.12 L510.93 160.56 L510.33 162.00 L509.73 163.44 L509.14 164.88 L508.56 166.32 L507.97 167.76 L507.40 169.20 L506.82 170.64 L506.25 172.08 L505.68 173.52 L505.12 174.95 L504.56 176.39 L504.01 177.83 L503.46 179.27 L502.91 180.71 L502.37 182.15 L501.83 183.59 L501.30 185.03 L500.77 186.47 L500.24 187.91 L499.72 189.35 L499.20 190.79 L498.68 192.23 L498.17 193.67 L497.66 195.11 L497.16 196.55 L496.66 197.99 L496.17 199.43 L495.67 200.86 L495.19 202.30 L494.70 203.74 L494.22 205.18 L493.74 206.62 L493.27 208.06 L492.80 209.50 L492.34 210.94 L491.87 212.38 L491.42 213.82 L490.96 215.26 L490.51 216.70 L490.06 218.14 L489.62 219.58 L489.18 221.02 L488.74 222.46 L488.31 223.90 L487.88 225.34 L487.46 226.78 L487.04 228.21 L486.62 229.65 L486.20 231.09 L485.79 232.53 L485.38 233.97 L484.98 235.41 L484.58 236.85 L484.18 238.29 L483.79 239.73 L483.40 241.17 L483.01 242.61 L482.63 244.05 L482.25 245.49 L481.87 246.93 L481.50 248.37 L481.13 249.81 L480.76 251.25 L480.40 252.69 L480.04 254.13 L479.68 255.56 L479.33 257.00 L478.98 258.44 L478.63 259.88 L478.29 261.32 L477.95 262.76 L477.61 264.20 L477.28 265.64 L476.95 267.08 L476.62 268.52 L476.29 269.96 L475.97 271.40 L475.65 272.84 L475.34 274.28 L475.03 275.72 L474.72 277.16 L474.41 278.60 L474.11 280.04 L473.81 281.47 L473.51 282.91 L473.22 284.35 L472.93 285.79 L472.64 287.23 L472.36 288.67 L472.08 290.11 L471.80 291.55 L471.52 292.99 L471.25 294.43 L470.98 295.87 L470.71 297.31 L470.45 298.75 L470.18 300.19 L469.93 301.63 L469.67 303.07 L469.42 304.51 L469.17 305.95 L468.92 307.39 L468.68 308.82 L468.43 310.26 L468.19 311.70 L467.96 313.14 L467.72 314.58 L467.49 316.02 L467.26 317.46 L467.04 318.90 L466.82 320.34 L466.60 321.78 L466.38 323.22 L466.16 324.66 L465.95 326.10 L465.74 327.54 L465.53 328.98 L465.33 330.42 L465.12 331.86 L464.92 333.30 L464.73 334.74 L464.53 336.17 L464.34 337.61 L464.15 339.05 L463.96 340.49 L463.78 341.93 L463.59 343.37 L463.41 344.81 L463.24 346.25 L463.06 347.69 L462.89 349.13 L462.72 350.57 L462.55 352.01 L462.38 353.45 L462.22 354.89 L462.06 356.33 L461.90 357.77 L461.74 359.21 L461.59 360.65 L461.43 362.08 L461.28 363.52 L461.13 364.96 L460.99 366.40 L460.85 367.84 L460.70 369.28 L460.56 370.72 L460.43 372.16 L460.29 373.60 L460.16 375.04 L460.03 376.48 L459.90 377.92 L459.77 379.36 L459.65 380.80 L459.52 382.24 L459.40 383.68 L459.28 385.12 L459.17 386.56 L459.05 388.00 L458.94 389.43 L458.83 390.87 L458.72 392.31 L458.61 393.75 L458.51 395.19 L458.40 396.63 L458.30 398.07 L458.20 399.51 L458.10 400.95 L458.01 402.39 L457.91 403.83 L457.82 405.27 L457.73 406.71 L457.64 408.15 L457.55 409.59 L457.47 411.03 L457.38 412.47 L457.30 413.91 L457.22 415.35 L457.14 416.78 L457.06 418.22 L456.99 419.66 L456.92 421.10 L456.84 422.54 L456.77 423.98 L456.70 425.42 L456.64 426.86 L456.57 428.30 L456.51 429.74 L456.44 431.18 L456.38 432.62 L456.32 434.06 L456.26 435.50 L456.21 436.94 L456.15 438.38 L456.10 439.82 L456.05 441.26 L456.00 442.69 L455.95 444.13 L455.90 445.57 L455.85 447.01 L455.80 448.45 L455.76 449.89 L455.72 451.33 L455.68 452.77 L455.64 454.21 L455.60 455.65 L455.56 457.09 L455.52 458.53 L455.49 459.97 L455.45 461.41 L455.42 462.85 L455.39 464.29 L455.36 465.73 L455.33 467.17 L455.30 468.61 L455.28 470.04 L455.25 471.48 L455.22 472.92 L455.20 474.36 L455.18 475.80 L455.16 477.24 L455.14 478.68 L455.12 480.12 L455.10 481.56 L455.08 483.00" fill="none" stroke="#00f" stroke-width="1.9" stroke-dasharray="14.1 5.15" stroke-dashoffset="13.2" stroke-linejoin="round"/>
<path d="M73.30 33.73 L77.35 31.58 M77.35 30.73 V45.75 M73.00 45.75 H81.20" fill="none" stroke="#000" stroke-width="1.95" stroke-linecap="butt"/>
<text transform="translate(83.83,46.50) scale(0.1165,0.1148)" font-family="Liberation Sans" font-weight="normal" font-style="normal" font-size="200" fill="#000"  stroke="#000" stroke-width="3.46" stroke-linejoin="round">0</text>
<text transform="translate(97.53,38.40) scale(0.1165,0.1134)" font-family="Liberation Sans" font-weight="normal" font-style="normal" font-size="200" fill="#000"  stroke="#000" stroke-width="3.48" stroke-linejoin="round">0</text>
<path d="M56.30 145.09 L60.35 142.94 M60.35 142.09 V157.12 M56.00 157.12 H64.20" fill="none" stroke="#000" stroke-width="1.95" stroke-linecap="butt"/>
<text transform="translate(66.63,157.86) scale(0.1165,0.1148)" font-family="Liberation Sans" font-weight="normal" font-style="normal" font-size="200" fill="#000"  stroke="#000" stroke-width="3.46" stroke-linejoin="round">0</text>
<path d="M82.45 142.89 H94.15" stroke="#000" stroke-width="1.7" stroke-linecap="round" fill="none"/>
<path d="M100.30 137.19 L104.35 135.04 M104.35 134.19 V149.02 M100.00 149.02 H108.20" fill="none" stroke="#000" stroke-width="1.95" stroke-linecap="butt"/>
<path d="M56.30 256.46 L60.35 254.31 M60.35 253.46 V268.49 M56.00 268.49 H64.20" fill="none" stroke="#000" stroke-width="1.95" stroke-linecap="butt"/>
<text transform="translate(66.63,269.23) scale(0.1165,0.1148)" font-family="Liberation Sans" font-weight="normal" font-style="normal" font-size="200" fill="#000"  stroke="#000" stroke-width="3.46" stroke-linejoin="round">0</text>
<path d="M82.45 254.26 H94.15" stroke="#000" stroke-width="1.7" stroke-linecap="round" fill="none"/>
<path d="M 99.98 250.31 C 99.10 249.88 98.99 248.29 100.24 247.23 C 101.80 246.17 105.70 245.95 107.42 247.55 C 109.18 249.35 107.94 252.01 105.44 253.60 C 102.58 255.35 99.82 257.11 99.30 259.98 M 99.20 260.29 C 99.82 258.54 101.49 258.17 103.46 259.02 C 105.54 259.87 107.00 260.61 107.94 259.66 C 108.56 258.91 108.56 258.01 108.56 256.95" fill="none" stroke="#000" stroke-width="2.21" stroke-linecap="round" stroke-linejoin="round"/><circle cx="99.72" cy="249.99" r="1.47" fill="#000"/>
<path d="M56.30 367.83 L60.35 365.68 M60.35 364.83 V379.86 M56.00 379.86 H64.20" fill="none" stroke="#000" stroke-width="1.95" stroke-linecap="butt"/>
<text transform="translate(66.63,380.60) scale(0.1165,0.1148)" font-family="Liberation Sans" font-weight="normal" font-style="normal" font-size="200" fill="#000"  stroke="#000" stroke-width="3.46" stroke-linejoin="round">0</text>
<path d="M82.45 365.63 H94.15" stroke="#000" stroke-width="1.7" stroke-linecap="round" fill="none"/>
<path d="M 99.80 361.58 C 98.56 360.27 99.53 357.94 103.64 357.64 C 106.95 357.55 108.45 359.26 108.19 360.79 C 107.92 362.80 105.63 363.86 102.76 363.86 M 102.76 363.86 C 106.51 363.86 108.98 365.39 108.81 368.23 C 108.63 370.95 106.07 371.96 103.64 371.82 C 100.55 371.74 98.56 370.20 99.62 368.58" fill="none" stroke="#000" stroke-width="2.07" stroke-linecap="round" stroke-linejoin="round"/><circle cx="99.71" cy="361.32" r="1.36" fill="#000"/><circle cx="99.80" cy="368.58" r="1.36" fill="#000"/>
<path d="M56.30 479.20 L60.35 477.05 M60.35 476.20 V491.22 M56.00 491.22 H64.20" fill="none" stroke="#000" stroke-width="1.95" stroke-linecap="butt"/>
<text transform="translate(66.63,491.97) scale(0.1165,0.1148)" font-family="Liberation Sans" font-weight="normal" font-style="normal" font-size="200" fill="#000"  stroke="#000" stroke-width="3.46" stroke-linejoin="round">0</text>
<path d="M82.45 477.00 H94.15" stroke="#000" stroke-width="1.7" stroke-linecap="round" fill="none"/>
<path d="M 105.85 469.10 V 483.25 M 105.98 468.91 L 98.92 479.10 M 98.74 479.20 H 108.72 M 103.20 483.25 H 107.92" fill="none" stroke="#000" stroke-width="2.02" stroke-linecap="round" stroke-linejoin="round"/>
<path d="M116.22 504.40 H128.17" stroke="#000" stroke-width="1.85" stroke-linecap="round" fill="none"/>
<path d="M 139.69 496.20 V 510.44 M 139.82 496.01 L 132.46 506.27 M 132.27 506.37 H 142.68 M 136.92 510.44 H 141.85" fill="none" stroke="#000" stroke-width="2.07" stroke-linecap="round" stroke-linejoin="round"/>
<path d="M270.40 504.40 H282.35" stroke="#000" stroke-width="1.85" stroke-linecap="round" fill="none"/>
<path d="M 287.74 500.18 C 286.82 499.75 286.71 498.15 288.01 497.08 C 289.64 496.01 293.71 495.79 295.50 497.40 C 297.34 499.22 296.04 501.89 293.44 503.49 C 290.45 505.25 287.58 507.02 287.04 509.90 M 286.93 510.22 C 287.58 508.46 289.32 508.09 291.38 508.94 C 293.55 509.80 295.06 510.54 296.04 509.58 C 296.69 508.83 296.69 507.93 296.69 506.86" fill="none" stroke="#000" stroke-width="2.26" stroke-linecap="round" stroke-linejoin="round"/><circle cx="287.47" cy="499.86" r="1.51" fill="#000"/>
<text transform="translate(431.08,511.37) scale(0.1165,0.1141)" font-family="Liberation Sans" font-weight="normal" font-style="normal" font-size="200" fill="#000"  stroke="#000" stroke-width="3.47" stroke-linejoin="round">0</text>
<path d="M 587.79 500.18 C 586.87 499.75 586.76 498.15 588.07 497.08 C 589.69 496.01 593.76 495.79 595.55 497.40 C 597.39 499.22 596.09 501.89 593.49 503.49 C 590.50 505.25 587.63 507.02 587.09 509.90 M 586.98 510.22 C 587.63 508.46 589.37 508.09 591.43 508.94 C 593.60 509.80 595.11 510.54 596.09 509.58 C 596.74 508.83 596.74 507.93 596.74 506.86" fill="none" stroke="#000" stroke-width="2.26" stroke-linecap="round" stroke-linejoin="round"/><circle cx="587.52" cy="499.86" r="1.51" fill="#000"/>
<path d="M 748.09 496.20 V 510.44 M 748.22 496.01 L 740.86 506.27 M 740.67 506.37 H 751.08 M 745.32 510.44 H 750.25" fill="none" stroke="#000" stroke-width="2.07" stroke-linecap="round" stroke-linejoin="round"/>
<text transform="translate(429.70,46.25) scale(0.1376,0.1191)" font-family="Liberation Serif" font-weight="normal" font-style="normal" font-size="200" fill="#000"  stroke="#000" stroke-width="3.90" stroke-linejoin="round">m</text>
<g transform="translate(457.50,47.80) rotate(0) scale(1.0)" fill="none" stroke="#000" stroke-width="2.10" stroke-linecap="round"><ellipse rx="3.9" ry="3.5" transform="rotate(-25)"/><path d="M1.9 -6.5 L-1.9 6.6"/></g>
<path d="M465.4 37.5 H479.6 M465.4 41.7 H479.6" stroke="#000" stroke-width="1.5" stroke-linecap="round" fill="none"/>
<text transform="translate(480.72,46.05) scale(0.1284,0.1152)" font-family="Liberation Serif" font-weight="normal" font-style="normal" font-size="200" fill="#000"  stroke="#000" stroke-width="7.39" stroke-linejoin="round">2</text>
<text transform="translate(494.29,46.07) scale(0.1233,0.1156)" font-family="Liberation Serif" font-weight="normal" font-style="normal" font-size="200" fill="#000"  stroke="#000" stroke-width="7.54" stroke-linejoin="round">0</text>
<text transform="translate(518.79,46.11) scale(0.0954,0.1179)" font-family="Liberation Serif" font-weight="normal" font-style="normal" font-size="200" fill="#000"  stroke="#000" stroke-width="8.44" stroke-linejoin="round">G</text>
<text transform="translate(533.69,46.12) scale(0.1080,0.1125)" font-family="Liberation Serif" font-weight="normal" font-style="normal" font-size="200" fill="#000"  stroke="#000" stroke-width="8.16" stroke-linejoin="round">e</text>
<text transform="translate(544.35,45.81) scale(0.0993,0.1134)" font-family="Liberation Serif" font-weight="normal" font-style="normal" font-size="200" fill="#000"  stroke="#000" stroke-width="8.46" stroke-linejoin="round">V</text>
<text transform="translate(429.70,79.75) scale(0.1376,0.1191)" font-family="Liberation Serif" font-weight="normal" font-style="normal" font-size="200" fill="#f00"  stroke="#f00" stroke-width="3.90" stroke-linejoin="round">m</text>
<g transform="translate(457.50,81.30) rotate(0) scale(1.0)" fill="none" stroke="#f00" stroke-width="2.10" stroke-linecap="round"><ellipse rx="3.9" ry="3.5" transform="rotate(-25)"/><path d="M1.9 -6.5 L-1.9 6.6"/></g>
<path d="M465.4 71.0 H479.6 M465.4 75.2 H479.6" stroke="#f00" stroke-width="1.5" stroke-linecap="round" fill="none"/>
<text transform="translate(480.35,79.52) scale(0.1268,0.1158)" font-family="Liberation Serif" font-weight="normal" font-style="normal" font-size="200" fill="#f00"  stroke="#f00" stroke-width="7.42" stroke-linejoin="round">5</text>
<text transform="translate(493.73,79.52) scale(0.1293,0.1158)" font-family="Liberation Serif" font-weight="normal" font-style="normal" font-size="200" fill="#f00"  stroke="#f00" stroke-width="7.35" stroke-linejoin="round">5</text>
<text transform="translate(518.79,79.61) scale(0.0954,0.1179)" font-family="Liberation Serif" font-weight="normal" font-style="normal" font-size="200" fill="#f00"  stroke="#f00" stroke-width="8.44" stroke-linejoin="round">G</text>
<text transform="translate(533.69,79.62) scale(0.1080,0.1125)" font-family="Liberation Serif" font-weight="normal" font-style="normal" font-size="200" fill="#f00"  stroke="#f00" stroke-width="8.16" stroke-linejoin="round">e</text>
<text transform="translate(544.35,79.31) scale(0.0993,0.1134)" font-family="Liberation Serif" font-weight="normal" font-style="normal" font-size="200" fill="#f00"  stroke="#f00" stroke-width="8.46" stroke-linejoin="round">V</text>
<text transform="translate(429.70,113.15) scale(0.1376,0.1191)" font-family="Liberation Serif" font-weight="normal" font-style="normal" font-size="200" fill="#00f"  stroke="#00f" stroke-width="3.90" stroke-linejoin="round">m</text>
<g transform="translate(457.50,114.70) rotate(0) scale(1.0)" fill="none" stroke="#00f" stroke-width="2.10" stroke-linecap="round"><ellipse rx="3.9" ry="3.5" transform="rotate(-25)"/><path d="M1.9 -6.5 L-1.9 6.6"/></g>
<path d="M465.4 104.4 H479.6 M465.4 108.60000000000001 H479.6" stroke="#00f" stroke-width="1.5" stroke-linecap="round" fill="none"/>
<text transform="translate(480.72,112.95) scale(0.1284,0.1152)" font-family="Liberation Serif" font-weight="normal" font-style="normal" font-size="200" fill="#00f"  stroke="#00f" stroke-width="7.39" stroke-linejoin="round">2</text>
<text transform="translate(494.29,112.97) scale(0.1233,0.1156)" font-family="Liberation Serif" font-weight="normal" font-style="normal" font-size="200" fill="#00f"  stroke="#00f" stroke-width="7.54" stroke-linejoin="round">0</text>
<text transform="translate(507.57,112.97) scale(0.1256,0.1156)" font-family="Liberation Serif" font-weight="normal" font-style="normal" font-size="200" fill="#00f"  stroke="#00f" stroke-width="7.46" stroke-linejoin="round">0</text>
<text transform="translate(532.49,113.01) scale(0.0954,0.1179)" font-family="Liberation Serif" font-weight="normal" font-style="normal" font-size="200" fill="#00f"  stroke="#00f" stroke-width="8.44" stroke-linejoin="round">G</text>
<text transform="translate(547.39,113.03) scale(0.1080,0.1125)" font-family="Liberation Serif" font-weight="normal" font-style="normal" font-size="200" fill="#00f"  stroke="#00f" stroke-width="8.16" stroke-linejoin="round">e</text>
<text transform="translate(558.05,112.71) scale(0.0993,0.1134)" font-family="Liberation Serif" font-weight="normal" font-style="normal" font-size="200" fill="#00f"  stroke="#00f" stroke-width="8.46" stroke-linejoin="round">V</text>
<path d="M607.2 37.5 H707.6" stroke="#000" stroke-width="1.9" stroke-linecap="round" fill="none"/>
<path d="M606.2 71.1 H708.4" stroke="#f00" stroke-width="1.9" stroke-dasharray="7.5 3.63" fill="none"/>
<path d="M606.2 104.3 H708.4" stroke="#00f" stroke-width="1.9" stroke-dasharray="14.6 4.7" fill="none"/>
<text transform="translate(158.38,169.88) scale(0.1621,0.1388)" font-family="Liberation Serif" font-weight="normal" font-style="normal" font-size="200" fill="#000"  stroke="#000" stroke-width="2.99" stroke-linejoin="round">m</text>
<text transform="translate(185.99,176.40) scale(0.1113,0.0950)" font-family="Liberation Serif" font-weight="normal" font-style="normal" font-size="200" fill="#000"  stroke="#000" stroke-width="5.82" stroke-linejoin="round">h</text>
<path d="M200.6 161.9 H216.4 M200.6 166.2 H216.4" stroke="#000" stroke-width="1.5" stroke-linecap="round" fill="none"/>
<text transform="translate(221.21,169.65) scale(0.1141,0.1288)" font-family="Liberation Serif" font-weight="normal" font-style="normal" font-size="200" fill="#000"  stroke="#000" stroke-width="7.41" stroke-linejoin="round">1</text>
<text transform="translate(235.59,169.65) scale(0.1444,0.1311)" font-family="Liberation Serif" font-weight="normal" font-style="normal" font-size="200" fill="#000"  stroke="#000" stroke-width="6.53" stroke-linejoin="round">2</text>
<text transform="translate(251.30,169.69) scale(0.1500,0.1311)" font-family="Liberation Serif" font-weight="normal" font-style="normal" font-size="200" fill="#000"  stroke="#000" stroke-width="6.40" stroke-linejoin="round">0</text>
<text transform="translate(280.53,169.68) scale(0.1145,0.1328)" font-family="Liberation Serif" font-weight="normal" font-style="normal" font-size="200" fill="#000"  stroke="#000" stroke-width="7.28" stroke-linejoin="round">G</text>
<text transform="translate(298.75,169.70) scale(0.1280,0.1260)" font-family="Liberation Serif" font-weight="normal" font-style="normal" font-size="200" fill="#000"  stroke="#000" stroke-width="7.09" stroke-linejoin="round">e</text>
<text transform="translate(311.70,169.36) scale(0.1248,0.1291)" font-family="Liberation Serif" font-weight="normal" font-style="normal" font-size="200" fill="#000"  stroke="#000" stroke-width="7.09" stroke-linejoin="round">V</text>
<path d="M 439.64 526.90 C 437.90 527.24 436.45 528.11 436.91 529.44 C 437.20 530.59 438.77 530.82 442.54 531.17 M 441.09 531.05 C 437.61 530.82 434.83 532.15 434.59 534.86 C 434.48 537.17 436.45 538.32 441.21 538.49 M 439.35 538.44 C 435.29 538.32 432.85 539.94 432.85 542.24 C 432.97 544.84 436.45 545.42 438.77 546.57 C 440.80 547.73 439.64 550.03 436.16 549.40" fill="none" stroke="#000" stroke-width="2.20" stroke-linecap="round" stroke-linejoin="round"/>
<g transform="translate(0,0)">
<text transform="translate(16.14,269.73) rotate(-90) scale(0.1416,0.1247)" font-family="Liberation Serif" font-size="200" fill="#000" stroke="#000" stroke-width="5.26" stroke-linejoin="round">g</text>
<g transform="translate(17.90,248.00) rotate(-90) scale(1.14)" fill="none" stroke="#000" stroke-width="1.84" stroke-linecap="round"><ellipse rx="3.9" ry="3.5" transform="rotate(-25)"/><path d="M1.9 -6.5 L-1.9 6.6"/></g>
<g transform="translate(17.90,236.00) rotate(-90) scale(1.14)" fill="none" stroke="#000" stroke-width="1.84" stroke-linecap="round"><ellipse rx="3.9" ry="3.5" transform="rotate(-25)"/><path d="M1.9 -6.5 L-1.9 6.6"/></g>
<g transform="translate(17.90,224.20) rotate(-90) scale(1.14)" fill="none" stroke="#000" stroke-width="1.84" stroke-linecap="round"><ellipse rx="3.9" ry="3.5" transform="rotate(-25)"/><path d="M1.9 -6.5 L-1.9 6.6"/></g>
</g>
</g>
</svg>
</body></html>
